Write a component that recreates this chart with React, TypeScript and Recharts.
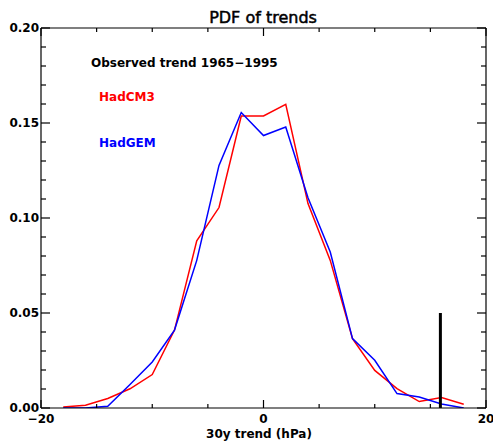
import React from 'react';
import { LineChart, Line, XAxis, YAxis } from 'recharts';

// trend bins (hPa)
const trendBins = [-18, -16, -14, -12, -10, -8, -6, -4, -2, 0, 2, 4, 6, 8, 10, 12, 14, 16, 18];
const hadcm3 = [0.0005, 0.0014, 0.005, 0.0101, 0.0176, 0.041, 0.088, 0.1055, 0.1537, 0.1537, 0.1598, 0.1076, 0.0777, 0.0365, 0.0198, 0.0102, 0.0034, 0.0055, 0.002];
const hadgem = [0, 0, 0.0009, 0.0124, 0.0242, 0.041, 0.0777, 0.1277, 0.1555, 0.1434, 0.1479, 0.1107, 0.0821, 0.0365, 0.0251, 0.0076, 0.0058, 0.0021, 0];
const observedTrend = 15.9;
const observedHeight = 0.05;

const xTicks = [-20, -15, -10, -5, 0, 5, 10, 15, 20];
const xMajor = [-20, 0, 20];
const yTicks = [0, 0.01, 0.02, 0.03, 0.04, 0.05, 0.06, 0.07, 0.08, 0.09, 0.1, 0.11, 0.12, 0.13, 0.14, 0.15, 0.16, 0.17, 0.18, 0.19, 0.2];
const yMajor = [0, 0.05, 0.1, 0.15, 0.2];

const data = trendBins.map((t, i) => ({ t, hadcm3: hadcm3[i], hadgem: hadgem[i] }));
const obsData = [{ t: observedTrend, obs: 0 }, { t: observedTrend, obs: observedHeight }];

const FONT = '"DejaVu Sans", sans-serif';
const isMajor = (list: number[], v: number) => list.some((m) => Math.abs(m - v) < 1e-9);

const makeTick = (side: string) => (props: any) => {
  const { x, y, payload } = props;
  const v = payload.value;
  const major = side === 'bottom' || side === 'top' ? isMajor(xMajor, v) : isMajor(yMajor, v);
  let len = major ? 8 : 4;
  if (side === 'left' || side === 'right') len = major ? 9 : 5;
  let line = null;
  let label = null;
  if (side === 'bottom') {
    line = <line x1={x} x2={x} y1={y} y2={y - len} stroke="#000" strokeWidth={1.2} />;
    if (major) label = <text x={x} y={y + 15} textAnchor="middle" fontFamily={FONT} fontWeight="bold" fontSize={12} fill="#000">{v === -20 ? '−20' : String(v)}</text>;
  } else if (side === 'top') {
    line = <line x1={x} x2={x} y1={y} y2={y + len} stroke="#000" strokeWidth={1.2} />;
  } else if (side === 'left') {
    line = <line x1={x} x2={x + len} y1={y} y2={y} stroke="#000" strokeWidth={1.2} />;
    if (major) label = <text x={x - 2} y={y + 4} textAnchor="end" fontFamily={FONT} fontWeight="bold" fontSize={12} fill="#000">{v.toFixed(2)}</text>;
  } else {
    line = <line x1={x} x2={x - len} y1={y} y2={y} stroke="#000" strokeWidth={1.2} />;
  }
  return <g>{line}{label}</g>;
};

export default function App() {
  return (
    <div style={{ position: 'absolute', left: 0, top: 0, width: 493, height: 445, background: '#fff', overflow: 'hidden' }}>
      <LineChart width={493} height={445} data={data} margin={{ top: 0, right: 0, bottom: 0, left: 0 }}>
        <XAxis xAxisId="b" dataKey="t" type="number" domain={[-20, 20]} ticks={xTicks} interval={0}
          orientation="bottom" height={37} tickSize={0} tickMargin={0} tickLine={false}
          axisLine={{ stroke: '#000', strokeWidth: 1.2 }} tick={makeTick('bottom')} allowDataOverflow />
        <XAxis xAxisId="t" dataKey="t" type="number" domain={[-20, 20]} ticks={xTicks} interval={0}
          orientation="top" height={28} tickSize={0} tickMargin={0} tickLine={false}
          axisLine={{ stroke: '#000', strokeWidth: 1.2 }} tick={makeTick('top')} allowDataOverflow />
        <YAxis yAxisId="l" type="number" domain={[0, 0.2]} ticks={yTicks} interval={0}
          orientation="left" width={41} tickSize={0} tickMargin={0} tickLine={false}
          axisLine={{ stroke: '#000', strokeWidth: 1.2 }} tick={makeTick('left')} allowDataOverflow />
        <YAxis yAxisId="r" type="number" domain={[0, 0.2]} ticks={yTicks} interval={0}
          orientation="right" width={7} tickSize={0} tickMargin={0} tickLine={false}
          axisLine={{ stroke: '#000', strokeWidth: 1.2 }} tick={makeTick('right')} allowDataOverflow />
        <Line xAxisId="b" yAxisId="l" dataKey="hadcm3" stroke="#ff0000" strokeWidth={1.5} dot={false} isAnimationActive={false} type="linear" />
        <Line xAxisId="b" yAxisId="l" dataKey="hadgem" stroke="#0000ff" strokeWidth={1.5} dot={false} isAnimationActive={false} type="linear" />
        <Line xAxisId="b" yAxisId="l" data={obsData} dataKey="obs" stroke="#000" strokeWidth={3} dot={false} isAnimationActive={false} type="linear" />
      </LineChart>
      <svg width={493} height={445} style={{ position: 'absolute', left: 0, top: 0, pointerEvents: 'none' }}>
        <text x={263} y={23} textAnchor="middle" fontFamily={FONT} fontSize={16} fill="#000" stroke="#000" strokeWidth={0.5}>PDF of trends</text>
        <text x={259} y={438} textAnchor="middle" fontFamily={FONT} fontWeight="bold" fontSize={12} fill="#000">30y trend (hPa)</text>
        <text x={91} y={67} fontFamily={FONT} fontWeight="bold" fontSize={12} fill="#000">Observed trend 1965−1995</text>
        <text x={99} y={101} fontFamily={FONT} fontWeight="bold" fontSize={12} fill="#ff0000">HadCM3</text>
        <text x={99} y={147} fontFamily={FONT} fontWeight="bold" fontSize={12} fill="#0000ff">HadGEM</text>
      </svg>
    </div>
  );
}
